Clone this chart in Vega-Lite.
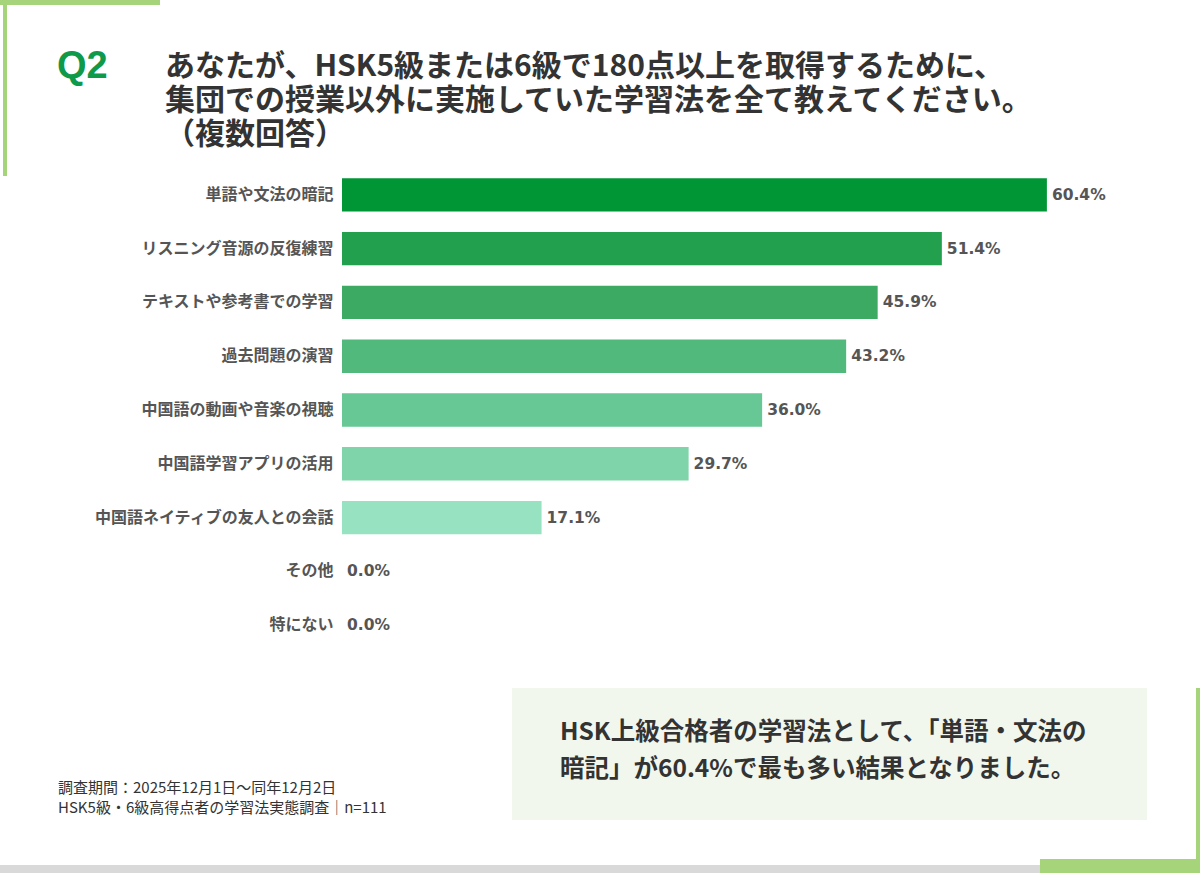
{
  "$schema": "https://vega.github.io/schema/vega-lite/v6.json",
  "width": 800,
  "height": 484,
  "autosize": {"type": "none"},
  "padding": {"left": 342, "top": 168, "right": 58, "bottom": 232},
  "background": "white",
  "config": {"view": {"stroke": null}, "font": "Noto Sans CJK JP"},
  "title": {
    "text": ["あなたが、HSK5級または6級で180点以上を取得するために、", "集団での授業以外に実施していた学習法を全て教えてください。", "（複数回答）"],
    "anchor": "start",
    "frame": "group",
    "dx": -177,
    "dy": 172,
    "offset": 22,
    "baseline": "top",
    "fontSize": 30,
    "lineHeight": 34,
    "fontWeight": "bold",
    "color": "#333333",
    "font": "Noto Sans CJK JP"
  },
  "datasets": {
    "shapes": [
      {"part": "top-left horizontal", "kind": "green", "x": 0, "x2": 160, "y": 0, "y2": 5},
      {"part": "top-left vertical", "kind": "green", "x": 3, "x2": 7, "y": 0, "y2": 176},
      {"part": "bottom gray", "kind": "gray", "x": 0, "x2": 1040, "y": 865, "y2": 873},
      {"part": "bottom-right vertical", "kind": "green", "x": 1196, "x2": 1200, "y": 688, "y2": 873},
      {"part": "bottom-right horizontal", "kind": "green", "x": 1040, "x2": 1200, "y": 859, "y2": 873},
      {"part": "summary box", "kind": "box", "x": 512, "x2": 1147, "y": 688, "y2": 820}
    ],
    "texts": [
      {"role": "q", "x": 57, "y": 67, "text": "Q2"},
      {"role": "note", "x": 58, "y": 788, "text": "調査期間：2025年12月1日～同年12月2日"},
      {"role": "note", "x": 58, "y": 808, "text": "HSK5級・6級高得点者の学習法実態調査│n=111"},
      {"role": "box", "x": 560, "y": 733, "text": "HSK上級合格者の学習法として、「単語・文法の"},
      {"role": "box", "x": 560, "y": 770, "text": "暗記」が60.4%で最も多い結果となりました。"}
    ],
    "bars": [
      {"label": "単語や文法の暗記", "value": 0.604},
      {"label": "リスニング音源の反復練習", "value": 0.514},
      {"label": "テキストや参考書での学習", "value": 0.459},
      {"label": "過去問題の演習", "value": 0.432},
      {"label": "中国語の動画や音楽の視聴", "value": 0.36},
      {"label": "中国語学習アプリの活用", "value": 0.297},
      {"label": "中国語ネイティブの友人との会話", "value": 0.171},
      {"label": "その他", "value": 0.0},
      {"label": "特にない", "value": 0.0}
    ]
  },
  "layer": [
    {
      "layer": [
        {
          "data": {"name": "shapes"},
          "mark": {"type": "rect"},
          "encoding": {
            "x": {"field": "x", "type": "quantitative", "scale": {"domain": [342, 1142], "nice": false, "zero": false}, "axis": null},
            "x2": {"field": "x2"},
            "y": {"field": "y", "type": "quantitative", "scale": {"domain": [168, 652], "nice": false, "zero": false, "reverse": true}, "axis": null},
            "y2": {"field": "y2"},
            "color": {"field": "kind", "type": "nominal", "scale": {"domain": ["green", "gray", "box"], "range": ["#A6D47B", "#D9D9D9", "#F2F7EE"]}, "legend": null}
          }
        },
        {
          "data": {"name": "texts"},
          "transform": [{"filter": "datum.role === 'q'"}],
          "mark": {"type": "text", "align": "left", "baseline": "middle", "font": "Liberation Sans", "fontSize": 38, "fontWeight": "bold", "color": "#0E9A48"},
          "encoding": {
            "x": {"field": "x", "type": "quantitative", "scale": {"domain": [342, 1142], "nice": false, "zero": false}, "axis": null},
            "y": {"field": "y", "type": "quantitative", "scale": {"domain": [168, 652], "nice": false, "zero": false, "reverse": true}, "axis": null},
            "text": {"field": "text"}
          }
        },
        {
          "data": {"name": "texts"},
          "transform": [{"filter": "datum.role === 'note'"}],
          "mark": {"type": "text", "align": "left", "baseline": "middle", "font": "Noto Sans CJK JP", "fontSize": 15, "color": "#333333"},
          "encoding": {
            "x": {"field": "x", "type": "quantitative", "scale": {"domain": [342, 1142], "nice": false, "zero": false}, "axis": null},
            "y": {"field": "y", "type": "quantitative", "scale": {"domain": [168, 652], "nice": false, "zero": false, "reverse": true}, "axis": null},
            "text": {"field": "text"}
          }
        },
        {
          "data": {"name": "texts"},
          "transform": [{"filter": "datum.role === 'box'"}],
          "mark": {"type": "text", "align": "left", "baseline": "middle", "font": "Noto Sans CJK JP", "fontSize": 24.5, "fontWeight": "bold", "color": "#333333"},
          "encoding": {
            "x": {"field": "x", "type": "quantitative", "scale": {"domain": [342, 1142], "nice": false, "zero": false}, "axis": null},
            "y": {"field": "y", "type": "quantitative", "scale": {"domain": [168, 652], "nice": false, "zero": false, "reverse": true}, "axis": null},
            "text": {"field": "text"}
          }
        }
      ]
    },
    {
      "data": {"name": "bars"},
      "encoding": {
        "y": {
          "field": "label",
          "type": "nominal",
          "sort": null,
          "scale": {"paddingInner": 0.38, "paddingOuter": 0.19},
          "axis": {"title": null, "ticks": false, "domain": false, "labelPadding": 9, "labelFont": "Noto Sans CJK JP", "labelFontSize": 16, "labelFontWeight": "bold", "labelColor": "#555555", "labelLimit": 0}
        },
        "x": {"field": "value", "type": "quantitative", "scale": {"domain": [0, 0.6855], "nice": false}, "axis": null}
      },
      "layer": [
        {
          "mark": {"type": "bar"},
          "encoding": {
            "color": {
              "field": "label",
              "type": "nominal",
              "sort": null,
              "scale": {
                "domain": ["単語や文法の暗記", "リスニング音源の反復練習", "テキストや参考書での学習", "過去問題の演習", "中国語の動画や音楽の視聴", "中国語学習アプリの活用", "中国語ネイティブの友人との会話", "その他", "特にない"],
                "range": ["#009535", "#22A04D", "#3DAA64", "#52B97D", "#67C795", "#7FD5A9", "#97E3C1", "#B0EBD0", "#B0EBD0"]
              },
              "legend": null
            }
          }
        },
        {
          "mark": {"type": "text", "align": "left", "baseline": "middle", "dx": 5, "font": "DejaVu Sans", "fontSize": 15.5, "fontWeight": "bold", "color": "#555555"},
          "encoding": {
            "text": {"field": "value", "type": "quantitative", "format": ".1%"}
          }
        }
      ]
    }
  ],
  "resolve": {"scale": {"x": "independent", "y": "independent", "color": "independent"}}
}
